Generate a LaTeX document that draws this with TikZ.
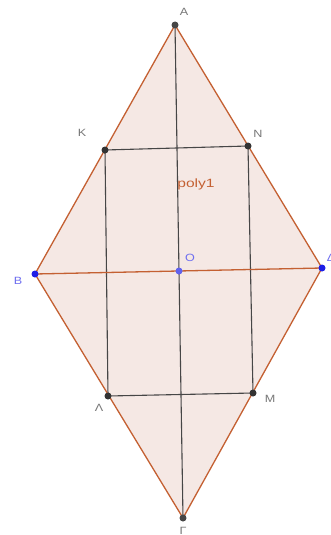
\documentclass[tikz,border=0pt]{standalone}
\usepackage{fontspec}
\setmainfont{Liberation Sans}
\definecolor{polyfill}{RGB}{245,232,228}
\definecolor{polyedge}{RGB}{196,96,50}
\definecolor{ptblue}{RGB}{30,30,230}
\definecolor{lblblue}{RGB}{110,110,240}
\definecolor{lblgray}{RGB}{120,120,120}
\definecolor{segdark}{RGB}{70,70,70}
\tikzset{
  pt/.style={circle,fill=#1,inner sep=0pt,minimum size=7pt},
  lbl/.style={font=\fontsize{10.5}{12}\selectfont,text=lblgray,inner sep=0pt,xscale=1.2},
  lblb/.style={font=\fontsize{10.5}{12}\selectfont,text=lblblue,inner sep=0pt,xscale=1.2},
  edge/.style={draw=polyedge,line width=1.3pt},
  seg/.style={draw=segdark,line width=1.1pt}
}
\begin{document}
\begin{tikzpicture}[x=1pt,y=-1pt]
\useasboundingbox (0,0) rectangle (330,535);
\fill[white] (0,0) rectangle (330,535);
\coordinate (A) at (175,25);
\coordinate (B) at (35,274);
\coordinate (G) at (183,518);
\coordinate (D) at (322,268);
\coordinate (O) at (179,271);
\coordinate (K) at (105,150);
\coordinate (N) at (248,146);
\coordinate (L) at (108,396);
\coordinate (M) at (253,393);
\fill[polyfill] (A) -- (B) -- (G) -- (D) -- cycle;
\draw[seg] (A) -- (G);
\draw[seg] (K) -- (N) -- (M) -- (L) -- cycle;
\draw[edge] (B) -- (D);
\draw[edge] (A) -- (B) -- (G) -- (D) -- cycle;
\node[pt=segdark] (pA) at (A) {};
\node[pt=segdark] (pG) at (G) {};
\node[pt=black!80] (pK) at (K) {};
\node[pt=black!80] (pN) at (N) {};
\node[pt=black!80] (pL) at (L) {};
\node[pt=black!80] (pM) at (M) {};
\node[pt=ptblue] (pB) at (B) {};
\node[pt=ptblue!70!white] (pO) at (O) {};
\node[pt=ptblue] (pD) at (D) {};
\node[lbl] (tA) at (184,12) {A};
\node[lbl] (tK) at (82,133) {K};
\node[lbl] (tN) at (258,134) {N};
\node[lbl] (tL) at (99,408) {Λ};
\node[lbl] (tM) at (270,399) {M};
\node[lbl] (tG) at (183,531) {Γ};
\node[lblb] (tB) at (18,281) {B};
\node[lblb] (tO) at (190,258) {O};
\node[lblb] (tD) at (331,258) {Δ};
\node[font=\fontsize{12}{14}\selectfont,text=polyedge,inner sep=0pt,xscale=1.3] (tp) at (196,184) {poly1};
\end{tikzpicture}
\end{document}
